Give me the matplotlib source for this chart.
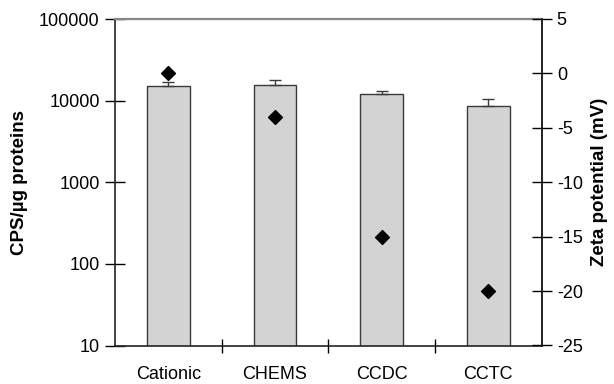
import numpy as np
import matplotlib.pyplot as plt
from matplotlib.ticker import FixedLocator, NullLocator

plt.rcParams['font.family'] = ['Liberation Sans', 'DejaVu Sans']
plt.rcParams['axes.unicode_minus'] = False

# === Datos ===
formulations = ['Cationic', 'CHEMS', 'CCDC', 'CCTC']
cps = [14900, 15500, 12100, 8600]
cps_err = [2100, 2400, 1200, 1800]
zeta = [0.0, -4.0, -15.0, -20.0]

fig = plt.figure(figsize=(6.14, 3.84), dpi=100)
ax = fig.add_axes([115 / 614, 1 - 345.5 / 384, 426.5 / 614, 326.5 / 384])

x = np.arange(len(formulations))
ax.bar(x, cps, width=0.4, color='#d3d3d3', edgecolor='#3a3a3a', linewidth=1.0, zorder=2)
ax.errorbar(x, cps, yerr=[np.zeros(len(cps)), cps_err], fmt='none', ecolor='#3a3a3a',
            elinewidth=1.0, capsize=4, capthick=1.0, zorder=3)
ax.set_yscale('log')
ax.set_ylim(10, 100000)
ax.set_xlim(-0.5, 3.5)
ax.yaxis.set_major_locator(FixedLocator([10, 100, 1000, 10000, 100000]))
ax.yaxis.set_minor_locator(NullLocator())
ax.set_yticklabels(['10', '100', '1000', '10000', '100000'])
ax.set_xticks(x)
ax.set_xticklabels(formulations)
ax.set_xticks([0.5, 1.5, 2.5], minor=True)
ax.tick_params(axis='x', which='major', length=0, pad=15, labelsize=13)
ax.tick_params(axis='x', which='minor', length=10, direction='inout', width=1.0)
ax.tick_params(axis='y', length=14, direction='inout', width=1.0, labelsize=13, pad=4)
ax.set_ylabel('CPS/µg proteins', fontsize=13.5, fontweight='bold', labelpad=8)
for s in ['left', 'bottom', 'right']:
    ax.spines[s].set_color('#222222')
    ax.spines[s].set_linewidth(1.2)
ax.spines['top'].set_color('#888888')
ax.spines['top'].set_linewidth(1.6)

ax2 = ax.twinx()
ax2.scatter(x, zeta, marker='D', s=50, color='black', zorder=5)
ax2.set_ylim(-25, 5)
ax2.set_yticks([-25, -20, -15, -10, -5, 0, 5])
ax2.tick_params(axis='y', length=14, direction='inout', width=1.0, labelsize=13, pad=4)
ax2.set_ylabel('Zeta potential (mV)', fontsize=13.5, fontweight='bold', labelpad=6)
for s in ax2.spines.values():
    s.set_visible(False)
ax2.spines['right'].set_visible(True)
ax2.spines['right'].set_color('#222222')
ax2.spines['right'].set_linewidth(1.2)

fig.savefig('out.png', dpi=100)
